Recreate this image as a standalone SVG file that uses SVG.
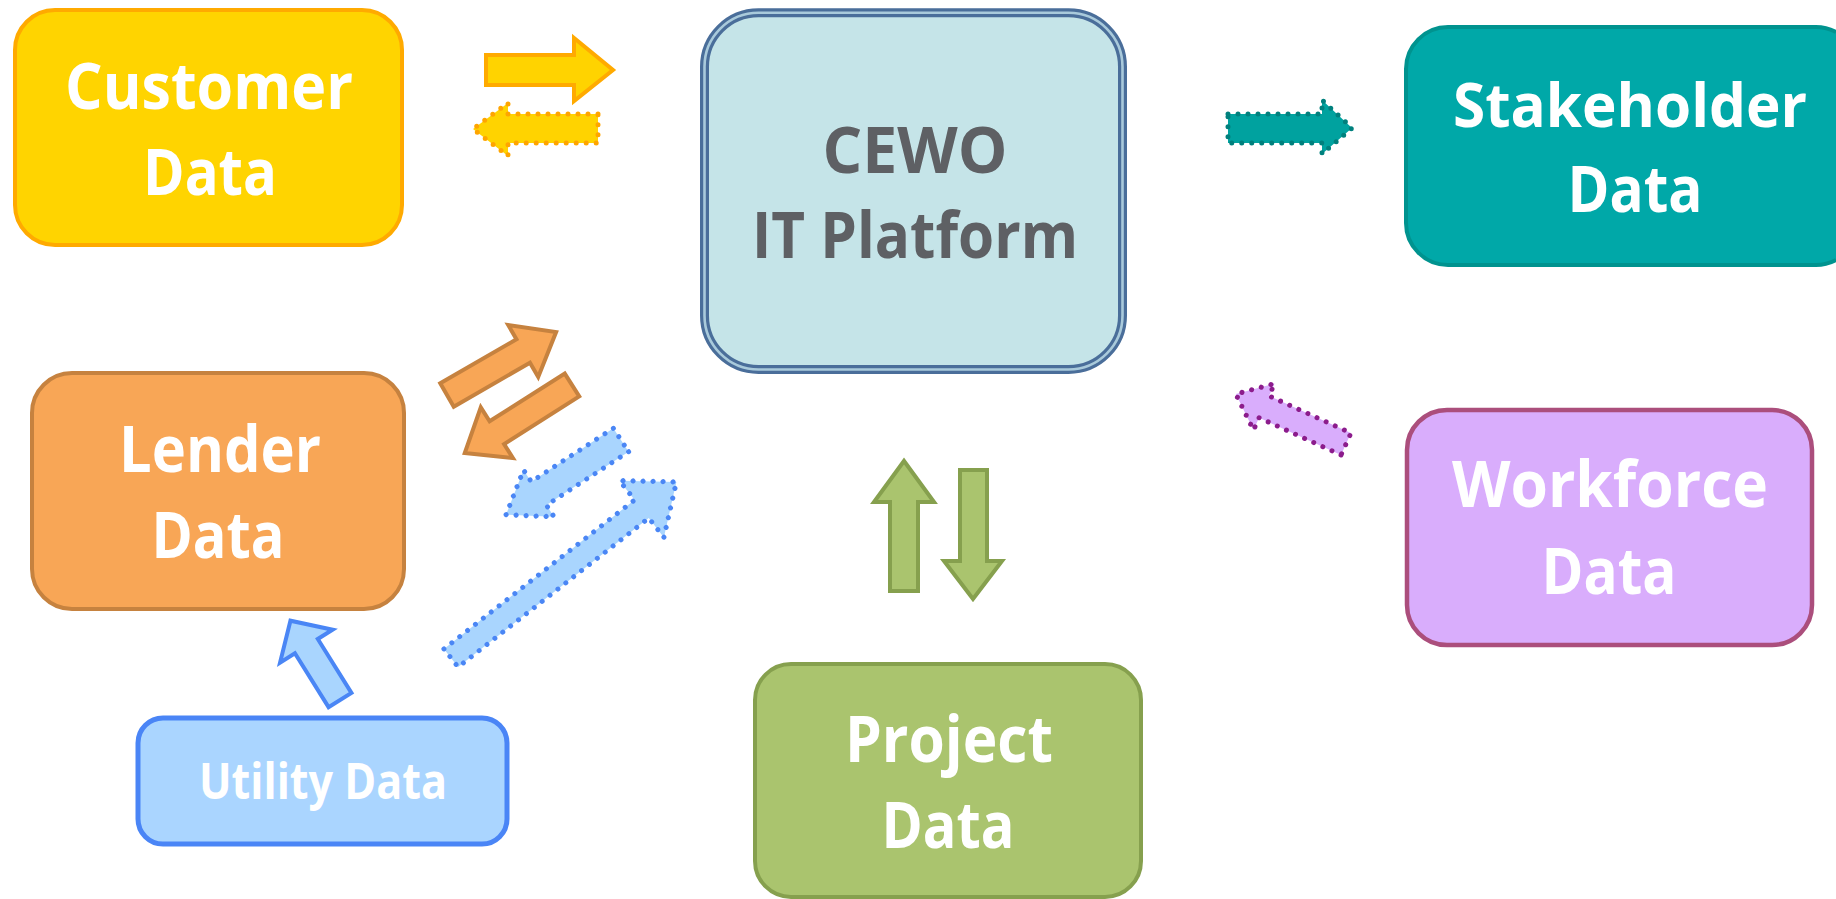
<svg xmlns="http://www.w3.org/2000/svg" width="1836" height="899" viewBox="0 0 1836 899">
<style>
.lbl{font-family:"Open Sans","Noto Sans","Liberation Sans",sans-serif;font-weight:bold;fill:#ffffff;text-anchor:middle}
.dark{fill:#5E6064}
.dot{stroke-width:5;stroke-dasharray:0 10;stroke-linecap:round;stroke-linejoin:round}
.solid{stroke-width:4;stroke-linejoin:miter}
</style>
<rect width="1836" height="899" fill="#ffffff"/>
<g id="connectors">
  <polygon id="a-customer-cewo" class="solid" fill="#FFD300" stroke="#FFAA00" points="486,55 574,55 574,38 613,70 574,101 574,85 486,85"/>
  <polygon id="a-cewo-customer" class="dot" fill="#FFD300" stroke="#FFA500" points="598,114 508,114 508,103 473,129 508,156 508,143 598,143"/>
  <polygon id="a-cewo-stakeholder" class="dot" fill="#00A29F" stroke="#00807D" points="1228,114 1322,114 1322,100 1352,128 1322,154 1322,143 1228,143"/>
  <polygon id="a-lender-cewo" class="solid" fill="#F8A656" stroke="#C6823F" transform="translate(447,395) rotate(-30)" points="0,-13.5 88,-13.5 88,-30 126,0 88,30 88,13.5 0,13.5"/>
  <polygon id="a-cewo-lender" class="solid" fill="#F8A656" stroke="#C6823F" transform="translate(572,385) rotate(147.6)" points="0,-13.5 89,-13.5 89,-30 127,0 89,30 89,13.5 0,13.5"/>
  <polygon id="a-cewo-lender-utility" class="dot" fill="#A9D5FE" stroke="#4A86F5" transform="translate(621,440) rotate(147)" points="0,-14 98,-14 98,-28 137,0 98,28 98,14 0,14"/>
  <polygon id="a-utility-cewo" class="dot" fill="#A9D5FE" stroke="#4A86F5" transform="translate(451,658) rotate(-38)" points="0,-11.5 242,-11.5 242,-36 286,0 242,36 242,11.5 0,11.5"/>
  <polygon id="a-utility-lender" class="solid" fill="#A9D5FE" stroke="#4A86F5" transform="translate(340,700) rotate(-122)" points="0,-13.5 63.5,-13.5 63.5,-31 93.5,0 63.5,31 63.5,13.5 0,13.5"/>
  <polygon id="a-project-cewo" class="solid" fill="#AAC46E" stroke="#86A04E" points="890,591 890,502 874,502 904,461 934,502 918,502 918,591"/>
  <polygon id="a-cewo-project" class="solid" fill="#AAC46E" stroke="#86A04E" points="960,470 987,470 987,561 1002,561 973,599 944,561 960,561"/>
  <polygon id="a-workforce-cewo" class="dot" fill="#D9ADFC" stroke="#8C1C8C" transform="translate(1346,444) rotate(-155.6)" points="0,-12 90,-12 90,-25.5 121,0 90,25.5 90,12 0,12"/>
</g>
<g id="node-customer">
  <rect x="15" y="10" width="387" height="235" rx="40" ry="40" fill="#FFD400" stroke="#FFAA00" stroke-width="4"/>
  <text class="lbl" x="209" y="109" font-size="64" textLength="288" lengthAdjust="spacingAndGlyphs">Customer</text>
  <text class="lbl" x="210" y="195" font-size="64" textLength="134" lengthAdjust="spacingAndGlyphs">Data</text>
</g>
<g id="node-cewo">
  <rect x="704.5" y="12.8" width="418" height="356.7" rx="54" ry="54" fill="#C5E4E8" stroke="#4A6E9A" stroke-width="9"/>
  <rect x="704.5" y="12.8" width="418" height="356.7" rx="54" ry="54" fill="none" stroke="#A9CADB" stroke-width="2.6"/>
  <text class="lbl dark" x="915" y="173" font-size="64" textLength="185" lengthAdjust="spacingAndGlyphs">CEWO</text>
  <text class="lbl dark" x="915" y="258" font-size="64" textLength="326" lengthAdjust="spacingAndGlyphs">IT Platform</text>
</g>
<g id="node-stakeholder">
  <path d="M1448,27 H1816 A42,42 0 0 1 1836,32.07 V259.93 A42,42 0 0 1 1816,265 H1448 A42,42 0 0 1 1406,223 V69 A42,42 0 0 1 1448,27 Z" fill="#00A8A8"/>
  <path d="M1836,32.07 A42,42 0 0 0 1816,27 H1448 A42,42 0 0 0 1406,69 V223 A42,42 0 0 0 1448,265 H1816 A42,42 0 0 0 1836,259.93" fill="none" stroke="#00938F" stroke-width="4"/>
  <text class="lbl" x="1630" y="127" font-size="61" textLength="354" lengthAdjust="spacingAndGlyphs">Stakeholder</text>
  <text class="lbl" x="1635" y="212" font-size="64" textLength="135" lengthAdjust="spacingAndGlyphs">Data</text>
</g>
<g id="node-lender">
  <rect x="32" y="373" width="372" height="236" rx="40" ry="40" fill="#F8A656" stroke="#C6823F" stroke-width="4"/>
  <text class="lbl" x="220" y="472" font-size="64" textLength="202" lengthAdjust="spacingAndGlyphs">Lender</text>
  <text class="lbl" x="218" y="558" font-size="64" textLength="133" lengthAdjust="spacingAndGlyphs">Data</text>
</g>
<g id="node-workforce">
  <rect x="1407" y="410" width="405" height="235" rx="40" ry="40" fill="#D9ADFC" stroke="#AB4E7C" stroke-width="4.5"/>
  <text class="lbl" x="1610" y="507" font-size="64" textLength="316" lengthAdjust="spacingAndGlyphs">Workforce</text>
  <text class="lbl" x="1609" y="594" font-size="64" textLength="135" lengthAdjust="spacingAndGlyphs">Data</text>
</g>
<g id="node-project">
  <rect x="755" y="664" width="386" height="233" rx="36" ry="36" fill="#AAC46E" stroke="#86A04E" stroke-width="4"/>
  <text class="lbl" x="949" y="762" font-size="64" textLength="208" lengthAdjust="spacingAndGlyphs">Project</text>
  <text class="lbl" x="948" y="848" font-size="64" textLength="133" lengthAdjust="spacingAndGlyphs">Data</text>
</g>
<g id="node-utility">
  <rect x="138" y="718" width="369" height="126" rx="25" ry="25" fill="#AAD5FF" stroke="#4A85F6" stroke-width="5"/>
  <text class="lbl" x="323" y="799" font-size="50" textLength="248" lengthAdjust="spacingAndGlyphs">Utility Data</text>
</g>
</svg>
